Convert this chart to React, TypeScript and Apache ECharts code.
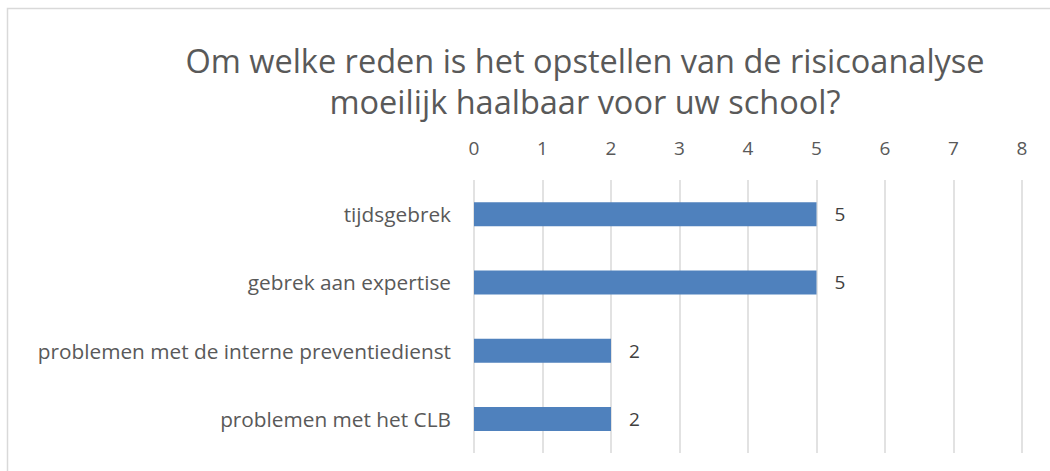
import React, { useEffect, useRef } from "react";
import * as echarts from "echarts";

const categories = [
  "tijdsgebrek",
  "gebrek aan expertise",
  "problemen met de interne preventiedienst",
  "problemen met het CLB",
];
const values = [5, 5, 2, 2];
const axisMin = 0;
const axisMax = 8;
const axisInterval = 1;
const titleText = "Om welke reden is het opstellen van de risicoanalyse\nmoeilijk haalbaar voor uw school?";

export default function App() {
  const ref = useRef<HTMLDivElement>(null);
  useEffect(() => {
    if (!ref.current) return;
    const chart = echarts.init(ref.current, null, { renderer: "svg" });
    chart.setOption({
      animation: false,
      textStyle: { fontFamily: "Open Sans" },
      title: {
        text: titleText,
        left: 580,
        top: 35,
        textAlign: "center",
        textStyle: {
          fontFamily: "Open Sans",
          fontSize: 32.5,
          fontWeight: "normal",
          color: "#595959",
          lineHeight: 41,
        },
      },
      graphic: [
        {
          type: "rect",
          shape: { x: 7.5, y: 8.5, width: 1100, height: 600 },
          style: { fill: "none", stroke: "#d9d9d9", lineWidth: 1.5 },
          silent: true,
        },
      ],
      grid: { left: 474, right: 28, top: 180, bottom: 18, containLabel: false },
      xAxis: {
        type: "value",
        position: "top",
        min: axisMin,
        max: axisMax,
        interval: axisInterval,
        axisLine: { show: false },
        axisTick: { show: false },
        axisLabel: { color: "#595959", fontSize: 19, margin: 23, fontFamily: "Open Sans" },
        splitLine: { show: true, lineStyle: { color: "#d9d9d9", width: 1.5 } },
      },
      yAxis: {
        type: "category",
        inverse: true,
        data: categories,
        axisLine: { show: false },
        axisTick: { show: false },
        axisLabel: { color: "#595959", fontSize: 20.8, margin: 23, fontFamily: "Open Sans" },
      },
      series: [
        {
          type: "bar",
          data: values,
          barWidth: 24,
          itemStyle: { color: "#4f81bd" },
          label: {
            show: true,
            position: "right",
            distance: 18,
            color: "#404040",
            fontSize: 19,
            fontFamily: "Open Sans",
          },
        },
      ],
    });
    return () => chart.dispose();
  }, []);
  return (
    <div
      ref={ref}
      style={{ position: "fixed", left: 0, top: 0, width: 1050, height: 471, background: "#fff" }}
    />
  );
}
